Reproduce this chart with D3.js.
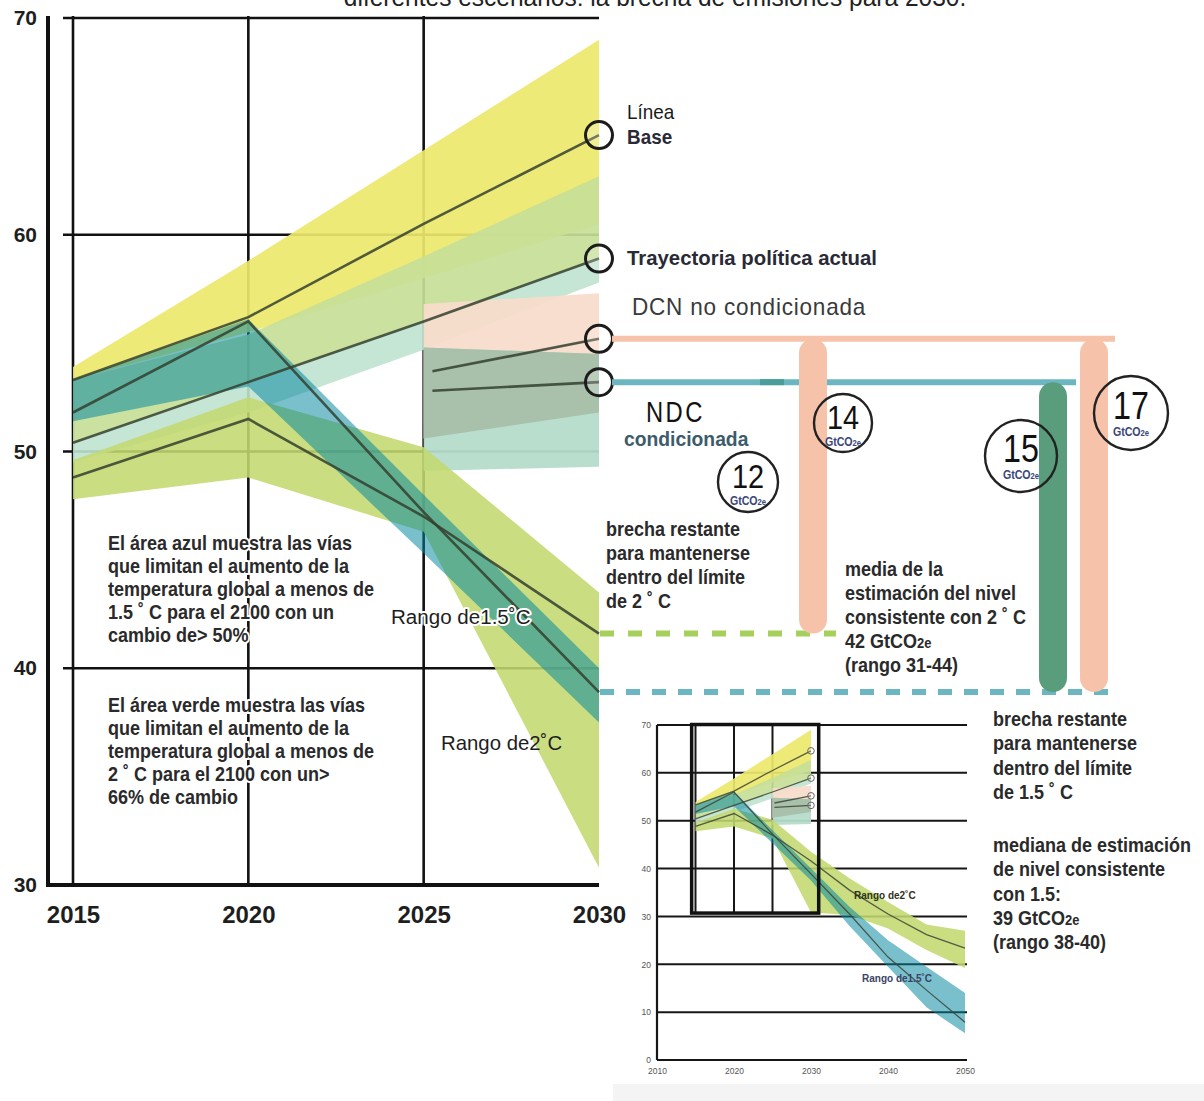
<!DOCTYPE html>
<html lang="es">
<head>
<meta charset="UTF-8">
<title>Brecha de emisiones para 2030</title>
<script src="https://d3js.org/d3.v7.min.js"></script>
<style>
  body { margin: 0; background: #fff; }
  svg { display: block; font-family: "Liberation Sans", Arial, sans-serif; }
  .halo { paint-order: stroke; stroke: #fff; stroke-width: 4px; stroke-linejoin: round; }
</style>
</head>
<body>
<script>
// ---- data (GtCO2e) ----
const years = [2015, 2020, 2025, 2030, 2035, 2040, 2045, 2050];

const baseMid = [53.3, 56.2, 60.5, 64.6];
const baseLo  = [53.3, 55.5, 58.0, 60.5];
const baseHi  = [53.9, 58.8, 63.9, 69.0];

const policyMid = [50.4, 53.2, 56.0, 58.9];
const policyLo  = [49.5, 51.8, 54.7, 57.8];
const policyHi  = [53.3, 55.4, 59.0, 62.7];

const ndcYears = [2025, 2030];
const uncondLo = [50.6, 51.8];
const uncondHi = [56.8, 57.3];
const condLo   = [49.1, 49.3];
const condHi   = [54.8, 54.5];
const ndcLineYears = [2025.25, 2030];
const uncondMid = [53.7, 55.2];
const condMid   = [52.8, 53.2];

const twoMid = [48.8, 51.5, 47.0, 41.6, 35.5, 30.5, 26.2, 23.4];
const twoLo  = [47.8, 48.8, 46.3, 30.8, 30.3, 27.5, 23.0, 19.2];
const twoHi  = [49.6, 52.5, 50.2, 43.5, 38.0, 33.0, 28.3, 27.0];

const oneFiveMid = [51.8, 56.0, 47.2, 38.9, 30.5, 21.5, 14.6, 7.9];
const oneFiveLo  = [51.4, 53.0, 45.3, 37.5, 28.0, 19.5, 11.0, 5.6];
const oneFiveHi  = [53.3, 56.1, 48.0, 40.0, 32.0, 25.0, 19.5, 14.0];

const gapLabels = ["12", "14", "15", "17"];

const yTicks = [30, 40, 50, 60, 70];
const xTicks = [2015, 2020, 2025, 2030];
const insetYTicks = [0, 10, 20, 30, 40, 50, 60, 70];
const insetXTicks = [2010, 2020, 2030, 2040, 2050];

// ---- setup ----
const W = 1204, H = 1101;
const svg = d3.select("body").append("svg").attr("width", W).attr("height", H);

const x = d3.scaleLinear().domain([2015, 2030]).range([73, 599]);
const y = d3.scaleLinear().domain([30, 70]).range([885, 18]);

const rows = (ys, lo, hi) => lo.map((v, i) => ({ year: ys[i], lo: v, hi: hi[i] }));
const pts = (ys, v) => v.map((d, i) => ({ year: ys[i], v: d }));

function bands(g, sx, sy) {
  const area = d3.area().x(d => sx(d.year)).y0(d => sy(d.lo)).y1(d => sy(d.hi));
  const n = sx === x ? 4 : years.length;
  const add = (data, fill, op) => g.append("path").attr("d", area(data)).attr("fill", fill).attr("fill-opacity", op);

  add(rows(years, baseLo, baseHi), "#ece86c", 0.92);
  add(rows(years, policyMid, policyHi), "#c6de98", 0.92);
  add(rows(years, policyLo, policyMid), "#bfe2d0", 0.9);
  add(rows(ndcYears, uncondLo, uncondHi), "#f8dccb", 0.95);
  add(rows(ndcYears, condLo, condHi), "#b5dccb", 0.95);
  add(rows(ndcYears, uncondLo.map((v, i) => Math.max(v, condLo[i])), uncondHi.map((v, i) => Math.min(v, condHi[i]))), "#a9c0aa", 1);
  add(rows(years.slice(0, n), twoLo.slice(0, n), twoHi.slice(0, n)), "#c3da6f", 0.88);
  add(rows(years.slice(0, n), oneFiveLo.slice(0, n), oneFiveHi.slice(0, n)), "#02869f", 0.53);
}

function lines(g, sx, sy, color, width, r) {
  const line = d3.line().x(d => sx(d.year)).y(d => sy(d.v));
  const n = sx === x ? 4 : years.length;
  [pts(years, baseMid), pts(years, policyMid), pts(ndcLineYears, uncondMid), pts(ndcLineYears, condMid),
   pts(years.slice(0, n), twoMid.slice(0, n)), pts(years.slice(0, n), oneFiveMid.slice(0, n))]
    .forEach(d => g.append("path").attr("d", line(d)).attr("fill", "none")
      .attr("stroke", color).attr("stroke-width", width).attr("stroke-opacity", 0.85));
  g.selectAll(null).data([baseMid[3], policyMid[3], uncondMid[1], condMid[1]]).join("circle")
    .attr("cx", sx(2030)).attr("cy", d => sy(d)).attr("r", r)
    .attr("fill", "rgba(255,255,255,0.2)").attr("stroke", sx === x ? "#1c1c1c" : "#666").attr("stroke-width", sx === x ? 3 : 1);
}

// condensed text block: group scaled horizontally
function block(lines, x0, y0, lh, opts = {}) {
  const fs = opts.fs || 20;
  const g = svg.append("g").attr("transform", `translate(${x0},${y0}) scale(${opts.k || 0.9},1)`);
  const t = g.append("text").attr("font-size", fs).attr("font-weight", opts.fw || "bold")
    .attr("fill", opts.fill || "#2a2a2a").attr("text-anchor", opts.anchor || "start");
  if (opts.halo) t.attr("class", "halo");
  if (opts.ls) t.attr("letter-spacing", opts.ls);
  lines.forEach((l, i) => {
    const s = t.append("tspan").attr("x", 0).attr("y", i * lh);
    if (Array.isArray(l)) {
      s.append("tspan").text(l[0]);
      s.append("tspan").attr("font-size", fs * 0.72).text(l[1]);
    } else s.text(l);
  });
  return t;
}

// title (cut at top)
block(["diferentes escenarios: la brecha de emisiones para 2030."], 655, 6, 0,
  { fs: 25, fw: "normal", fill: "#222", anchor: "middle", k: 0.98 });

// ---- main chart ----
const main = svg.append("g");
main.selectAll(null).data(yTicks.slice(1)).join("line")
  .attr("x1", 63).attr("x2", 599).attr("y1", d => y(d)).attr("y2", d => y(d))
  .attr("stroke", "#111").attr("stroke-width", 2.6);
main.selectAll(null).data(xTicks.slice(0, 3)).join("line")
  .attr("x1", d => x(d)).attr("x2", d => x(d)).attr("y1", y(70) - 2).attr("y2", y(30))
  .attr("stroke", "#111").attr("stroke-width", 2.6);

bands(main, x, y);
lines(main, x, y, "#34402f", 2.6, 13.5);

main.append("line").attr("x1", 48).attr("x2", 48).attr("y1", 16).attr("y2", 887).attr("stroke", "#111").attr("stroke-width", 4);
main.append("line").attr("x1", 46).attr("x2", 599).attr("y1", 885).attr("y2", 885).attr("stroke", "#111").attr("stroke-width", 4);

const yAxis = main.append("g").attr("transform", "translate(48,0)")
  .call(d3.axisLeft(y).tickValues(yTicks).tickSize(0).tickPadding(11));
const xAxis = main.append("g").attr("transform", "translate(0,885)")
  .call(d3.axisBottom(x).tickValues(xTicks).tickSize(0).tickPadding(21).tickFormat(d3.format("d")));
[yAxis, xAxis].forEach(a => {
  a.select(".domain").remove();
  a.selectAll("text").attr("font-family", null).attr("fill", "#1e1e1e").attr("font-weight", "bold");
});
yAxis.selectAll("text").attr("font-size", 21);
xAxis.selectAll("text").attr("font-size", 24);

// ---- gap annotations ----
const gapColor = { peach: "#f6c3aa", teal: "#6bb6c1", green: "#a6cf5b", dark: "#5a9d7d" };
const hLines = [
  { v: uncondMid[1], x1: 612, x2: 1115, c: gapColor.peach, dash: null },
  { v: condMid[1], x1: 612, x2: 1076, c: gapColor.teal, dash: null },
  { v: twoMid[3], x1: 600, x2: 836, c: gapColor.green, dash: "14 14" },
  { v: oneFiveMid[3], x1: 600, x2: 1115, c: gapColor.teal, dash: "14 12" }
];
const gaps = svg.append("g");
gaps.selectAll(null).data(hLines).join("line")
  .attr("x1", d => d.x1).attr("x2", d => d.x2).attr("y1", d => y(d.v)).attr("y2", d => y(d.v))
  .attr("stroke", d => d.c).attr("stroke-width", 6).attr("stroke-dasharray", d => d.dash);
gaps.append("line").attr("x1", 760).attr("x2", 784).attr("y1", y(condMid[1])).attr("y2", y(condMid[1]))
  .attr("stroke", "#4a9d9a").attr("stroke-width", 6);

const vBars = [
  { x: 813, top: uncondMid[1], bottom: twoMid[3], c: gapColor.peach },
  { x: 1053, top: condMid[1], bottom: oneFiveMid[3], c: gapColor.dark },
  { x: 1094, top: uncondMid[1], bottom: oneFiveMid[3], c: gapColor.peach }
];
gaps.selectAll(null).data(vBars).join("rect")
  .attr("x", d => d.x - 14).attr("width", 28).attr("y", d => y(d.top)).attr("height", d => y(d.bottom) - y(d.top))
  .attr("rx", 14).attr("fill", d => d.c);

const gapCircles = [
  { cx: 748, cy: 482, r: 30, fs: 34 },
  { cx: 843, cy: 423, r: 29, fs: 34 },
  { cx: 1021, cy: 456, r: 36, fs: 38 },
  { cx: 1131, cy: 413, r: 37, fs: 38 }
];
gapCircles.forEach((c, i) => {
  gaps.append("circle").attr("cx", c.cx).attr("cy", c.cy).attr("r", c.r)
    .attr("fill", "none").attr("stroke", "#222").attr("stroke-width", 2.4);
  const num = gaps.append("g").attr("transform", `translate(${c.cx},${c.cy + c.fs * 0.17}) scale(0.85,1)`);
  num.append("text").attr("text-anchor", "middle").attr("font-size", c.fs).attr("fill", "#111").text(gapLabels[i]);
  const gt = gaps.append("g").attr("transform", `translate(${c.cx},${c.cy + c.fs * 0.17 + 17}) scale(0.85,1)`);
  const t = gt.append("text").attr("text-anchor", "middle")
    .attr("font-size", 12.5).attr("font-weight", "bold").attr("fill", "#3a4677");
  t.append("tspan").text("GtCO");
  t.append("tspan").attr("font-size", 9).text("2e");
});

// ---- labels ----
block(["Línea"], 627, 119, 0, { fs: 21, fw: "normal", fill: "#1a1a1a" });
block(["Base"], 627, 144, 0, { fs: 21, fill: "#2a2a36" });
block(["Trayectoria política actual"], 627, 265, 0, { fs: 21, fill: "#2a2a36", k: 0.97 });
block(["DCN no condicionada"], 632, 315, 0, { fs: 23, fw: "normal", fill: "#3a3a3a", ls: 0.8, k: 0.98 });
block(["NDC"], 646, 422, 0, { fs: 29, fw: "normal", fill: "#111", ls: 3, k: 0.82 });
block(["condicionada"], 624, 446, 0, { fs: 21, fill: "#3d5b6b", k: 0.92 });

block(["brecha restante", "para mantenerse", "dentro del límite", "de 2 ˚ C"], 606, 536, 24);
block(["media de la", "estimación del nivel", "consistente con 2 ˚ C", ["42 GtCO", "2e"], "(rango 31-44)"], 845, 576, 24);
block(["brecha restante", "para mantenerse", "dentro del límite", "de 1.5 ˚ C"], 993, 726, 24.5);
block(["mediana de estimación", "de nivel consistente", "con 1.5:", ["39 GtCO", "2e"], "(rango 38-40)"], 993, 852, 24.3);

block(["El área azul muestra las vías", "que limitan el aumento de la", "temperatura global a menos de",
       "1.5 ˚ C para el 2100 con un", "cambio de> 50%"], 108, 550, 23, { halo: true });
block(["El área verde muestra las vías", "que limitan el aumento de la", "temperatura global a menos de",
       "2 ˚ C para el 2100 con un>", "66% de cambio"], 108, 712, 23, { halo: true });
block(["Rango de1.5˚C"], 391, 624, 0, { fs: 21, fw: "normal", fill: "#1e1e1e", halo: true, k: 0.98 });
block(["Rango de2˚C"], 441, 750, 0, { fs: 21, fw: "normal", fill: "#1e1e1e", k: 0.97 });

// ---- inset ----
svg.append("rect").attr("x", 613).attr("y", 1084).attr("width", W - 613).attr("height", H - 1084).attr("fill", "#f4f4f4");

const ix = d3.scaleLinear().domain([2010, 2050]).range([657, 965]);
const iy = d3.scaleLinear().domain([0, 70]).range([1060, 725]);
const inset = svg.append("g");

inset.selectAll(null).data(insetYTicks).join("line")
  .attr("x1", ix(2010)).attr("x2", ix(2050) + 2).attr("y1", d => iy(d)).attr("y2", d => iy(d))
  .attr("stroke", "#161616").attr("stroke-width", 2);
inset.selectAll(null).data(xTicks.slice(0, 3)).join("line")
  .attr("x1", d => ix(d)).attr("x2", d => ix(d)).attr("y1", iy(70)).attr("y2", iy(30.7))
  .attr("stroke", "#161616").attr("stroke-width", 2);
inset.append("line").attr("x1", ix(2010)).attr("x2", ix(2010)).attr("y1", iy(70)).attr("y2", iy(0))
  .attr("stroke", "#161616").attr("stroke-width", 2.2);

bands(inset, ix, iy);
lines(inset, ix, iy, "#3c4438", 1.3, 3.3);

inset.append("rect").attr("x", ix(2014.5)).attr("y", iy(70.1)).attr("width", ix(2031) - ix(2014.5))
  .attr("height", iy(30.7) - iy(70.1)).attr("fill", "none").attr("stroke", "#111").attr("stroke-width", 3.5);

const iyAxis = inset.append("g").attr("transform", `translate(${ix(2010)},0)`)
  .call(d3.axisLeft(iy).tickValues(insetYTicks).tickSize(0).tickPadding(6));
const ixAxis = inset.append("g").attr("transform", `translate(0,${iy(0)})`)
  .call(d3.axisBottom(ix).tickValues(insetXTicks).tickSize(0).tickPadding(8).tickFormat(d3.format("d")));
[iyAxis, ixAxis].forEach(a => {
  a.select(".domain").remove();
  a.selectAll("text").attr("font-family", null).attr("fill", "#555").attr("font-size", 8.5);
});

inset.append("text").attr("x", 854).attr("y", 899).attr("font-size", 10).attr("font-weight", "bold")
  .attr("fill", "#2d3320").text("Rango de2˚C");
inset.append("text").attr("x", 862).attr("y", 982).attr("font-size", 10).attr("font-weight", "bold")
  .attr("fill", "#3a4466").text("Rango de1.5˚C");
</script>
</body>
</html>
